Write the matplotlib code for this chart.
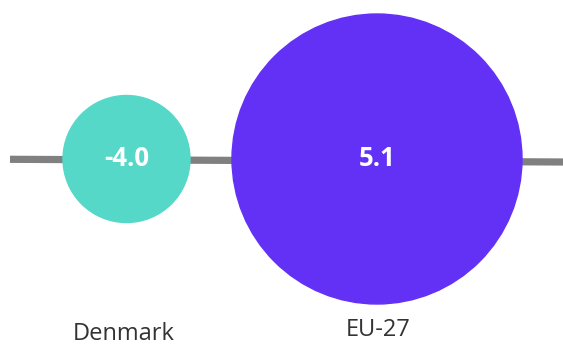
import matplotlib.pyplot as plt
from matplotlib.patches import Circle

categories = ["Denmark", "EU-27"]
values = [-4.0, 5.1]
colors = ["#56D8C9", "#6331F5"]

# layout in pixel units (figure is 563x345)
centers_x = [126.5, 377]
centers_y = [159, 159]
radius = [63.5, 145]
label_x = [123.5, 378]
label_y = [334, 330]

fig = plt.figure(figsize=(5.63, 3.45), dpi=100)
ax = fig.add_axes([0, 0, 1, 1])
ax.set_xlim(0, 563)
ax.set_ylim(345, 0)
ax.axis("off")

ax.plot([10, 563], [159.3, 162], color="#808080", lw=5.2, solid_capstyle="butt", zorder=1)

for i, cat in enumerate(categories):
    c = Circle((centers_x[i], centers_y[i]), radius[i], color=colors[i], zorder=2)
    ax.add_patch(c)
    ax.text(centers_x[i], centers_y[i], f"{values[i]:.1f}", color="white",
            fontsize=18.5, fontweight="bold", family="Open Sans",
            ha="center", va="center", zorder=3)
    ax.text(label_x[i], label_y[i], cat, color="#333333", fontsize=17,
            family="Open Sans", ha="center", va="center")

fig.savefig("out.png", dpi=100)
